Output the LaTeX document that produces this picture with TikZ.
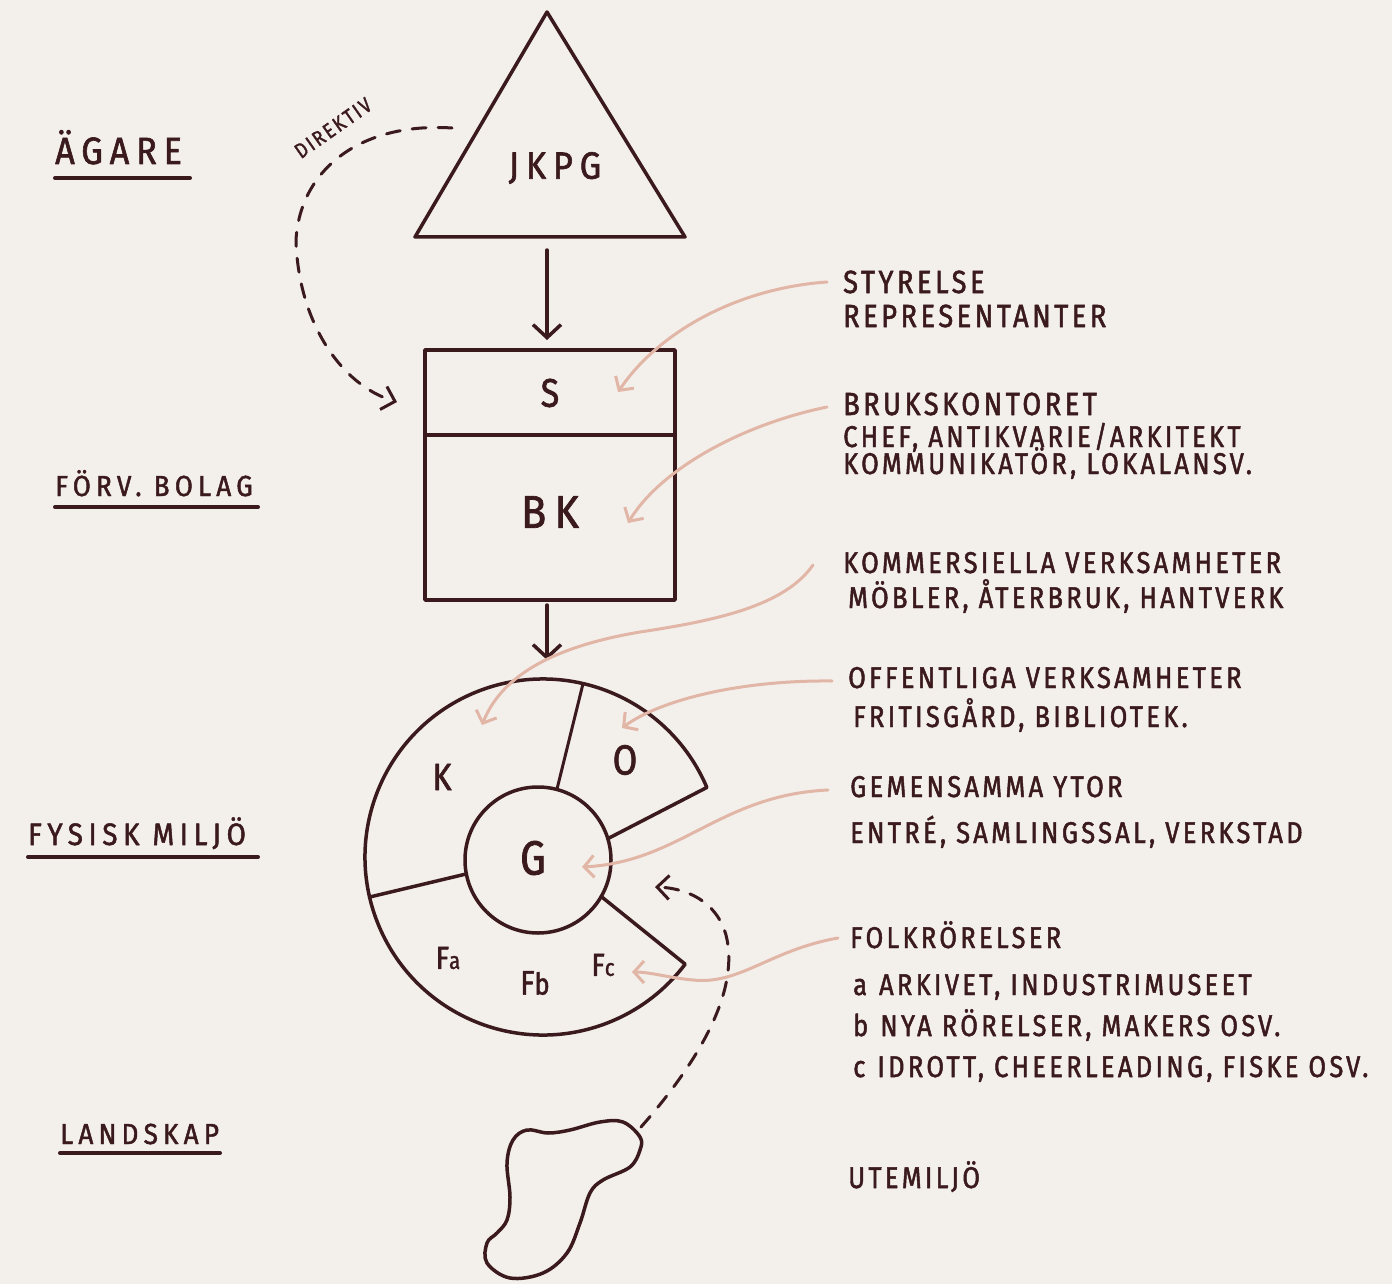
\documentclass[tikz,border=0pt]{standalone}
\usepackage{fontspec}
\setmainfont{Fira Sans}
\newfontfamily\hand[LetterSpace=11,FakeStretch=0.85,FakeBold=1.6]{Fira Sans}
\newfontfamily\handw[LetterSpace=18,FakeStretch=0.9,FakeBold=1.6]{Fira Sans}
\usetikzlibrary{arrows.meta,calc}
\definecolor{ink}{HTML}{3B1A1D}
\definecolor{rose}{HTML}{E2B6A6}
\definecolor{paper}{HTML}{F3EFEB}
\begin{document}
\begin{tikzpicture}[x=1pt,y=-1pt,line cap=round,line join=round,
  inkline/.style={draw=ink,line width=3.5pt},
  thinink/.style={draw=ink,line width=3pt},
  blackarrow/.style={draw=ink,line width=3.5pt,-{Straight Barb[length=13pt,width=28pt]}},
  dasharrow/.style={draw=ink,line width=3pt,dash pattern=on 14pt off 12pt,-{Straight Barb[length=12pt,width=24pt]}},
  rosearrow/.style={draw=rose,line width=3pt,-{Straight Barb[length=10pt,width=22pt]}},
  lefttxt/.style={anchor=base west,inner sep=0pt,text=ink,font=\handw\fontsize{30}{30}\selectfont},
  bigtxt/.style={anchor=base west,inner sep=0pt,text=ink,font=\hand\fontsize{32}{32}\selectfont},
  smalltxt/.style={anchor=base west,inner sep=0pt,text=ink,font=\hand\fontsize{30}{30}\selectfont},
  lbl/.style={inner sep=0pt,text=ink}]
\fill[paper] (0,0) rectangle (1392,1284);
\useasboundingbox (0,0) rectangle (1392,1284);

% ---- left level labels ----
\node[lefttxt,font=\handw\fontsize{38}{38}\selectfont] (agare) at (55,164) {ÄGARE};
\draw[inkline,line width=4pt] (55,178) -- (190,178);
\node[lefttxt,font=\handw\fontsize{29}{29}\selectfont] (forv) at (55,496) {FÖRV. BOLAG};
\draw[inkline,line width=4pt] (55,507) -- (258,507);
\node[lefttxt,font=\handw\fontsize{31}{31}\selectfont] (fysisk) at (28,845) {FYSISK MILJÖ};
\draw[inkline,line width=4pt] (28,857) -- (258,857);
\node[lefttxt,font=\handw\fontsize{29}{29}\selectfont] (landskap) at (60,1144) {LANDSKAP};
\draw[inkline,line width=4pt] (60,1153) -- (220,1153);

% ---- triangle JKPG ----
\draw[inkline] (547,12) -- (415,237) -- (685,237) -- cycle;
\node[lbl,font=\handw\fontsize{38}{38}\selectfont] (jkpg) at (555,168) {JKPG};
\coordinate (triB) at (547,250);

% ---- box S / BK ----
\draw[inkline] (425,350) rectangle (675,600);
\draw[inkline] (425,435) -- (675,435);
\coordinate (boxT) at (547,340);
\coordinate (boxB) at (547,605);
\node[lbl,font=\hand\fontsize{40}{40}\selectfont] (S) at (550,393) {S};
\node[lbl,font=\handw\fontsize{46}{46}\selectfont] (BK) at (550,512) {BK};
\draw[blackarrow] (triB) -- (boxT);

% ---- ring ----
\coordinate (C) at (543,857);
\coordinate (Gc) at (538,860);
\draw[inkline] ($(Gc)+(-17:73)$) -- ($(C)+(-23:178)$) arc[start angle=-23,end angle=-323,radius=178] -- ($(Gc)+(30:73)$);
\draw[inkline] (Gc) circle[radius=73];
\draw[thinink] ($(Gc)+(-75:73)$) -- ($(C)+(-77:178)$);
\draw[inkline] ($(Gc)+(169:73)$) -- ($(C)+(167:178)$);
\coordinate (ringT) at (547,660);
\draw[blackarrow] (boxB) -- (ringT);
\node[lbl,font=\hand\fontsize{38}{38}\selectfont] (K) at (442,777) {K};
\node[lbl,font=\hand\fontsize{42}{42}\selectfont] (O) at (625,760) {O};
\node[lbl,font=\hand\fontsize{48}{48}\selectfont] (G) at (533,858) {G};
\node[lbl,font=\hand\fontsize{32}{32}\selectfont] (Fa) at (448,958) {F{\fontsize{24}{24}\selectfont a}};
\node[lbl,font=\hand\fontsize{34}{34}\selectfont] (Fb) at (535,983) {F{\fontsize{30}{30}\selectfont b}};
\node[lbl,font=\hand\fontsize{32}{32}\selectfont] (Fc) at (603,965) {F{\fontsize{24}{24}\selectfont c}};

% ---- landscape blob ----
\draw[inkline] plot[smooth cycle,tension=0.6] coordinates {(527,1130) (548,1133) (570,1130) (600,1122) (623,1122) (640,1137) (640,1150) (630,1167) (603,1180) (590,1193) (580,1223) (567,1253) (543,1273) (510,1278) (487,1263) (487,1243) (497,1233) (507,1220) (510,1197) (507,1163) (513,1140)};
\coordinate (blobR) at (641,1127);
\coordinate (ringGap) at (655,887);
\draw[dasharrow] (blobR) .. controls (700,1060) and (740,990) .. (726,935) .. controls (716,900) and (685,888) .. (ringGap);

% ---- DIREKTIV ----
\coordinate (dirS) at (452,128);
\coordinate (dirE) at (397,402);
\draw[dasharrow] (dirS) .. controls (360,122) and (300,170) .. (296,240) .. controls (298,320) and (340,385) .. (dirE);
\node[lbl,font=\hand\fontsize{21}{21}\selectfont,rotate=35] (direktiv) at (333,128) {DIREKTIV};

% ---- right descriptions ----
\node[bigtxt] (t1a) at (843,293) {STYRELSE};
\node[bigtxt] (t1b) at (843,327) {REPRESENTANTER};
\node[bigtxt] (t2a) at (843,415) {BRUKSKONTORET};
\node[smalltxt] (t2b) at (843,447) {CHEF, ANTIKVARIE/ARKITEKT};
\node[smalltxt] (t2c) at (843,474) {KOMMUNIKATÖR, LOKALANSV.};
\node[smalltxt] (t3a) at (843,573) {KOMMERSIELLA VERKSAMHETER};
\node[smalltxt] (t3b) at (848,608) {MÖBLER, ÅTERBRUK, HANTVERK};
\node[smalltxt] (t4a) at (848,688) {OFFENTLIGA VERKSAMHETER};
\node[smalltxt] (t4b) at (853,727) {FRITISGÅRD, BIBLIOTEK.};
\node[smalltxt] (t5a) at (850,797) {GEMENSAMMA YTOR};
\node[smalltxt] (t5b) at (850,843) {ENTRÉ, SAMLINGSSAL, VERKSTAD};
\node[smalltxt] (t6a) at (850,948) {FOLKRÖRELSER};
\node[smalltxt] (t6b) at (853,995) {a\hspace{12pt}ARKIVET, INDUSTRIMUSEET};
\node[smalltxt] (t6c) at (853,1036) {b\hspace{12pt}NYA RÖRELSER, MAKERS OSV.};
\node[smalltxt] (t6d) at (853,1077) {c\hspace{12pt}IDROTT, CHEERLEADING, FISKE OSV.};
\node[smalltxt] (t7) at (848,1188) {UTEMILJÖ};

% ---- rose pointers ----
\coordinate (p1) at (827,282);
\coordinate (p2) at (827,407);
\coordinate (p3) at (813,565);
\coordinate (p4) at (832,681);
\coordinate (p5) at (828,790);
\coordinate (p6) at (838,938);
\coordinate (q1) at (618,392);
\coordinate (q2) at (628,523);
\coordinate (q3) at (482,725);
\coordinate (q4) at (622,728);
\coordinate (q5) at (582,867);
\coordinate (q6) at (632,972);
\draw[rosearrow] (p1) .. controls (740,288) and (660,330) .. (q1);
\draw[rosearrow] (p2) .. controls (740,425) and (660,470) .. (q2);
\draw[rosearrow] (p3) .. controls (785,605) and (720,620) .. (640,632) .. controls (545,648) and (500,680) .. (q3);
\draw[rosearrow] (p4) .. controls (740,680) and (660,700) .. (q4);
\draw[rosearrow] (p5) .. controls (720,795) and (680,862) .. (q5);
\draw[rosearrow] (p6) .. controls (770,950) and (740,985) .. (693,980) .. controls (670,978) and (650,972) .. (q6);
\end{tikzpicture}
\end{document}
